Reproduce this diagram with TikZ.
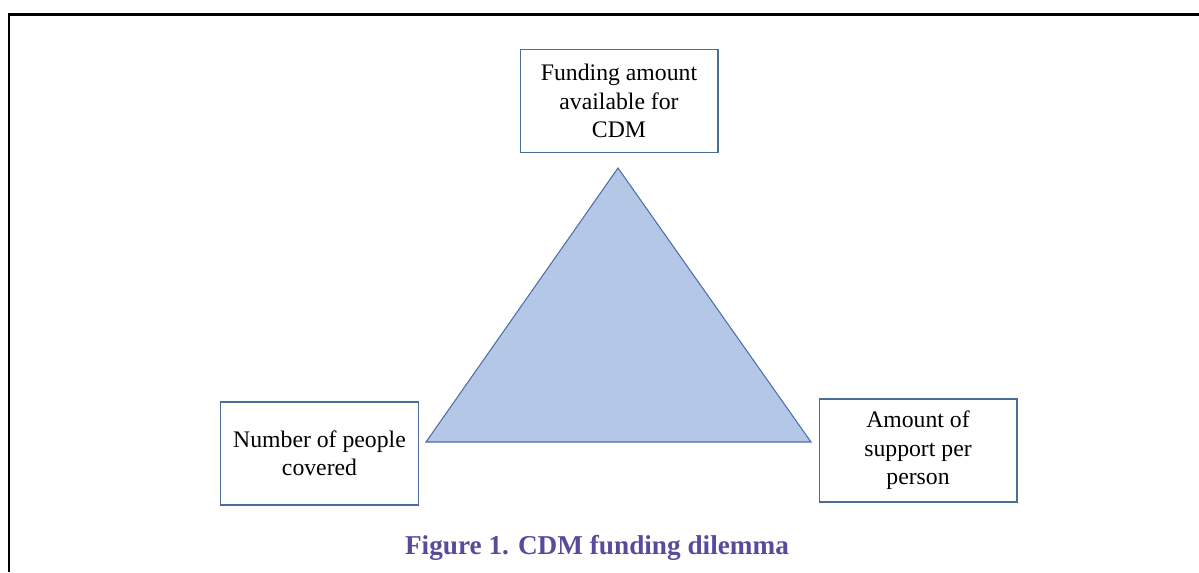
\documentclass[tikz,border=0pt]{standalone}
\usepackage{fontspec}
\setmainfont{Liberation Serif}
\usepackage{xcolor}
\usetikzlibrary{positioning}
\definecolor{boxline}{HTML}{4A6E98}
\definecolor{trifill}{HTML}{B4C7E7}
\definecolor{triline}{HTML}{4C6FA8}
\definecolor{captext}{HTML}{574C9C}

\begin{document}
\begin{tikzpicture}[
  x=0.02cm, y=-0.02cm,
  block/.style={rectangle, draw=boxline, line width=0.6pt,
                minimum width=3.96cm, minimum height=2.06cm,
                font=\fontsize{13.5}{16.2}\selectfont, align=center},
  caption/.style={font=\fontsize{15.5}{18}\selectfont\bfseries, text=captext},
  every node/.style={inner sep=0pt}
]
\useasboundingbox (0,0) rectangle (1199,572);

% Frame
\draw[line width=1.4pt] (9,572) -- (9,14.5) -- (1199,14.5);

% Triangle
\coordinate (apex) at (618,168);
\coordinate (left) at (426,442);
\coordinate (right) at (811,442);
\draw[fill=trifill, draw=triline, line width=0.6pt] (apex) -- (left) -- (right) -- cycle;

% Corners
\node[block] (fund) at (619,101) {Funding amount\\available for\\CDM};
\node[block] (people) at (319.5,453.5) {Number of people\\covered};
\node[block] (support) at (918,450.5) {Amount of\\support per\\person};

% Caption
\node[caption] (title) at (597,548) {Figure 1. CDM funding dilemma};
\end{tikzpicture}
\end{document}
